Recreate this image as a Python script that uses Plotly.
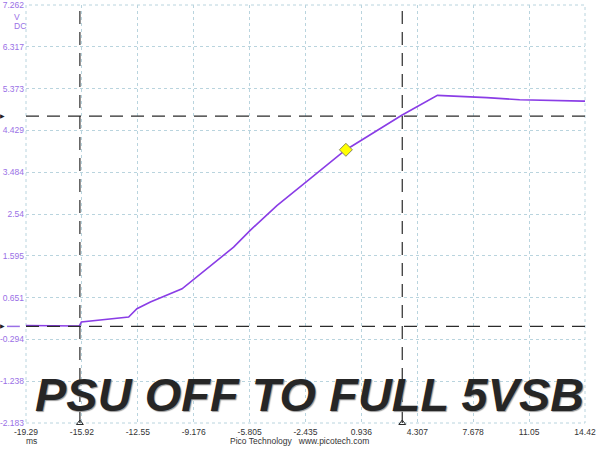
import plotly.graph_objects as go

# ---- data ----
time_ms = [-19.29, -16.07, -15.95, -13.10, -12.60, -11.79, -9.88, -6.77, -5.77,
           -4.16, -2.41, -0.04, 3.37, 5.52, 8.50, 10.48, 14.32, 14.42]
volts = [0.02, 0.01, 0.10, 0.21, 0.40, 0.55, 0.85, 1.79, 2.17,
         2.73, 3.26, 3.98, 4.77, 5.22, 5.17, 5.12, 5.09, 5.09]

x_tick_vals = [-19.29, -15.919, -12.548, -9.177, -5.806, -2.435, 0.936, 4.307, 7.678, 11.049, 14.42]
x_tick_text = ["-19.29", "-15.92", "-12.55", "-9.176", "-5.805", "-2.435", "0.936", "4.307", "7.678", "11.05", "14.42"]
y_tick_vals = [7.262, 6.3175, 5.373, 4.4285, 3.484, 2.5395, 1.595, 0.6505, -0.294, -1.2385, -2.183]
y_tick_text = ["7.262", "6.317", "5.373", "4.429", "3.484", "2.54", "1.595", "0.651", "-0.294", "-1.238", "-2.183"]

time_cursors = [-16.04, 3.40]
volt_cursors = [0.0, 4.75]
trigger_x = [0.0]
trigger_y = [3.99]

title_text = "PSU OFF TO FULL 5VSB"

# ---- styles ----
TRACE = "#8a3de6"
YLAB = "#9a70e6"
GRID = "#b9d4de"
CURS = "#2b2b2b"
FONT = "Liberation Sans, Arial, sans-serif"
TS = 8.5

fig = go.Figure()
fig.add_trace(go.Scatter(x=time_ms, y=volts, mode="lines",
                         line=dict(color=TRACE, width=1.6), hoverinfo="skip"))
fig.add_trace(go.Scatter(x=trigger_x, y=trigger_y, mode="markers",
                         marker=dict(symbol="diamond", size=10, color="#ffff00",
                                     line=dict(color="#8a8a5a", width=1))))
# small triangles at bottom of time cursors
fig.add_trace(go.Scatter(x=time_cursors, y=[y_tick_vals[-1]] * len(time_cursors), mode="markers",
                         marker=dict(symbol="triangle-up-open", size=6, color=CURS,
                                     line=dict(width=1)), cliponaxis=False))

shapes = []
for tx in time_cursors:
    shapes.append(dict(type="line", xref="x", yref="paper", x0=tx, x1=tx, y0=0, y1=1.002,
                       line=dict(color=CURS, width=1.2, dash="13px,8px")))
for vy in volt_cursors:
    shapes.append(dict(type="line", xref="paper", yref="y", x0=0, x1=1, y0=vy, y1=vy,
                       line=dict(color=CURS, width=1.2, dash="13px,8px")))
# plot border (dotted like grid)
shapes.append(dict(type="rect", xref="paper", yref="paper", x0=0, x1=1, y0=0, y1=1,
                   line=dict(color=GRID, width=1, dash="dot"), layer="below"))
# channel zero marker
shapes.append(dict(type="line", xref="paper", yref="y", x0=-0.034, x1=-0.011, y0=0, y1=0,
                   line=dict(color=YLAB, width=1.5)))

annotations = []
for vy in volt_cursors:
    annotations.append(dict(xref="paper", yref="y", x=0, y=vy, xanchor="right", xshift=-19,
                            text="\u25b6", showarrow=False, font=dict(size=6, color="#222")))
annotations += [
    dict(xref="paper", yref="paper", x=0, y=1, xanchor="center", yanchor="top", xshift=-9, yshift=-5,
         text="V", showarrow=False, font=dict(family=FONT, size=TS, color=YLAB)),
    dict(xref="paper", yref="paper", x=0, y=1, xanchor="center", yanchor="top", xshift=-6, yshift=-14,
         text="DC", showarrow=False, font=dict(family=FONT, size=TS, color=YLAB)),
    dict(xref="paper", yref="paper", x=0, y=0, xanchor="center", yanchor="top", xshift=5, yshift=-11,
         text="ms", showarrow=False, font=dict(family=FONT, size=TS, color="#333")),
    dict(xref="paper", yref="paper", x=0.49, y=0, xanchor="center", yanchor="top", yshift=-11,
         text="Pico Technology   www.picotech.com", showarrow=False,
         font=dict(family=FONT, size=TS, color="#333")),
    dict(xref="paper", yref="paper", x=0.508, y=0.067, xanchor="center", yanchor="middle",
         text="<b><i>" + title_text + "</i></b>", showarrow=False,
         font=dict(family=FONT, size=47, color="#262626", shadow="1px 1px 1px #9a9a9a")),
]

fig.update_layout(
    width=600, height=450,
    margin=dict(l=26, r=15, t=5, b=27, pad=0, autoexpand=False),
    paper_bgcolor="white", plot_bgcolor="white",
    showlegend=False,
    shapes=shapes, annotations=annotations,
    font=dict(family=FONT, size=TS),
    xaxis=dict(range=[-19.29, 14.42], tickvals=x_tick_vals, ticktext=x_tick_text,
               showgrid=True, gridcolor=GRID, griddash="dot", gridwidth=1, automargin=False,
               zeroline=False, showline=False, ticks="", ticklabelstandoff=2,
               ticklabeloverflow="allow",
               tickfont=dict(family=FONT, size=TS, color="#333")),
    yaxis=dict(range=[-2.183, 7.262], tickvals=y_tick_vals, ticktext=y_tick_text,
               showgrid=True, gridcolor=GRID, griddash="dot", gridwidth=1, automargin=False,
               zeroline=False, showline=False, ticks="", ticklabelstandoff=1,
               ticklabeloverflow="allow",
               tickfont=dict(family=FONT, size=TS, color=YLAB)),
)

fig.write_html("out.html", config={"displayModeBar": False},
               post_script="document.body.style.margin='0';")
